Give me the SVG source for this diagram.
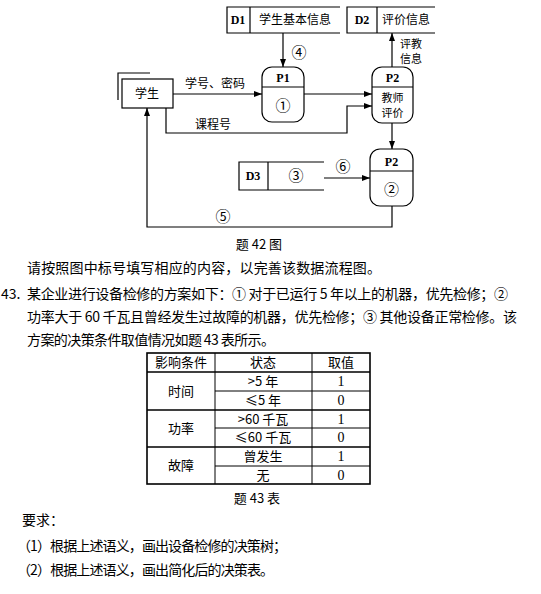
<svg xmlns="http://www.w3.org/2000/svg" width="541" height="594" viewBox="0 0 541 594">
<defs>
<marker id="ah" markerWidth="8" markerHeight="6" refX="8" refY="3" orient="auto" markerUnits="userSpaceOnUse">
<path d="M0,0 L8,3 L0,6 Z" fill="#000"/>
</marker>
<style>
.ln{fill:none;stroke:#000;stroke-width:1.2}
.bx{fill:#fff;stroke:#000;stroke-width:1.2}
.cn{font-family:"Noto Sans CJK SC","Noto Sans",sans-serif;font-size:12px;fill:#000;text-anchor:middle}
.ci{font-family:"Noto Sans CJK SC","Noto Sans",sans-serif;font-size:15px;fill:#000;text-anchor:middle}
.sm{font-family:"Noto Sans CJK SC","Noto Sans",sans-serif;font-size:11px;fill:#000}
.id{font-family:"Liberation Serif",serif;font-size:12px;font-weight:bold;fill:#000;text-anchor:middle}
.tx{font-family:"Noto Sans CJK SC","Noto Sans",sans-serif;font-size:14px;fill:#000}
.tb{font-family:"Noto Sans CJK SC","Noto Sans",sans-serif;font-size:13px;fill:#000;text-anchor:middle}
.nm{font-family:"Liberation Serif",serif;font-size:14px;fill:#000;text-anchor:middle}
.tk{fill:none;stroke:#000;stroke-width:1.6}
.th{fill:none;stroke:#000;stroke-width:1}
</style>
</defs>
<rect width="541" height="594" fill="#fff"/>

<g id="D1">
<path class="ln" d="M340,7 H227 V33 H340 M250,7 V33"/>
<text class="id" x="238" y="24">D1</text>
<text class="cn" x="295" y="24">学生基本信息</text>
</g>
<g id="D2">
<path class="ln" d="M435,7 H347 V33 H435 M377,7 V33"/>
<text class="id" x="362" y="24">D2</text>
<text class="cn" x="406" y="24">评价信息</text>
</g>
<g id="student">
<path class="ln" d="M118,100 V73 H150"/>
<rect class="bx" x="122" y="79" width="51" height="29"/>
<text class="cn" x="147" y="98">学生</text>
</g>
<g id="P1">
<rect class="bx" x="262" y="67" width="42" height="55" rx="10"/>
<path class="ln" d="M262,87 H304"/>
<text class="id" x="283" y="82">P1</text>
<text class="ci" x="283" y="111">①</text>
</g>
<g id="P2a">
<rect class="bx" x="372" y="67" width="41" height="56" rx="10"/>
<path class="ln" d="M372,87 H413"/>
<text class="id" x="392.5" y="82">P2</text>
<text class="sm" x="392.5" y="102" text-anchor="middle">教师</text>
<text class="sm" x="392.5" y="117" text-anchor="middle">评价</text>
</g>
<g id="P2b">
<rect class="bx" x="370" y="149" width="43" height="57" rx="10"/>
<path class="ln" d="M370,171 H413"/>
<text class="id" x="391.5" y="166">P2</text>
<text class="ci" x="391.5" y="195">②</text>
</g>
<g id="D3">
<path class="ln" d="M324,162 H239 V190 H324 M268,162 V190"/>
<text class="id" x="253" y="180">D3</text>
<text class="ci" x="296" y="181">③</text>
</g>

<g id="connectors">
<path class="ln" d="M283,33 V67" marker-end="url(#ah)"/>
<path class="ln" d="M392,67 V33" marker-end="url(#ah)"/>
<path class="ln" d="M173,94 H262" marker-end="url(#ah)"/>
<path class="ln" d="M304,94 H372" marker-end="url(#ah)"/>
<path class="ln" d="M166,108 V133 H347 V106 H372" marker-end="url(#ah)"/>
<path class="ln" d="M392,123 V149" marker-end="url(#ah)"/>
<path class="ln" d="M324,178 H370" marker-end="url(#ah)"/>
<path class="ln" d="M392,206 V227 H147 V108" marker-end="url(#ah)"/>
<text class="ci" x="299" y="58">④</text>
<text class="cn" x="215" y="88">学号、密码</text>
<text class="cn" x="213" y="129">课程号</text>
<text class="sm" x="400" y="48">评教</text>
<text class="sm" x="400" y="63">信息</text>
<text class="ci" x="343" y="172">⑥</text>
<text class="ci" x="223" y="222">⑤</text>
</g>

<text class="tb" x="259" y="249">题 42 图</text>

<text class="tx" x="27" y="273" textLength="354" lengthAdjust="spacing">请按照图中标号填写相应的内容，以完善该数据流程图。</text>
<text class="tx" x="1" y="299">43.</text>
<text class="tx" x="27" y="299" textLength="481" lengthAdjust="spacing">某企业进行设备检修的方案如下：① 对于已运行 5 年以上的机器，优先检修；②</text>
<text class="tx" x="27" y="322" textLength="490" lengthAdjust="spacing">功率大于 60 千瓦且曾经发生过故障的机器，优先检修；③ 其他设备正常检修。该</text>
<text class="tx" x="27" y="345" textLength="248" lengthAdjust="spacing">方案的决策条件取值情况如题 43 表所示。</text>

<g id="table">
<rect class="tk" x="147" y="353" width="223" height="131"/>
<path class="th" d="M215,353 V484 M312,353 V484"/>
<path class="tk" d="M147,372 H370 M147,410 H370 M147,447 H370"/>
<path class="th" d="M215,391 H370 M215,428 H370 M215,466 H370"/>
<text class="tb" x="181" y="367">影响条件</text>
<text class="tb" x="263" y="367">状态</text>
<text class="tb" x="341" y="367">取值</text>
<text class="tb" x="181" y="396">时间</text>
<text class="tb" x="181" y="433">功率</text>
<text class="tb" x="181" y="470">故障</text>
<text class="tb" x="263" y="386">&gt;5 年</text>
<text class="tb" x="263" y="405">≤5 年</text>
<text class="tb" x="263" y="424">&gt;60 千瓦</text>
<text class="tb" x="263" y="442">≤60 千瓦</text>
<text class="tb" x="263" y="461">曾发生</text>
<text class="tb" x="263" y="480">无</text>
<text class="nm" x="341" y="386">1</text>
<text class="nm" x="341" y="405">0</text>
<text class="nm" x="341" y="424">1</text>
<text class="nm" x="341" y="442">0</text>
<text class="nm" x="341" y="461">1</text>
<text class="nm" x="341" y="480">0</text>
</g>
<text class="tb" x="257" y="503">题 43 表</text>

<text class="tx" x="22" y="525" font-size="13">要求：</text>
<text class="tx" x="17" y="551" font-size="13" textLength="270" lengthAdjust="spacing">（1）根据上述语义，画出设备检修的决策树；</text>
<text class="tx" x="17" y="575" font-size="13" textLength="257" lengthAdjust="spacing">（2）根据上述语义，画出简化后的决策表。</text>
</svg>
